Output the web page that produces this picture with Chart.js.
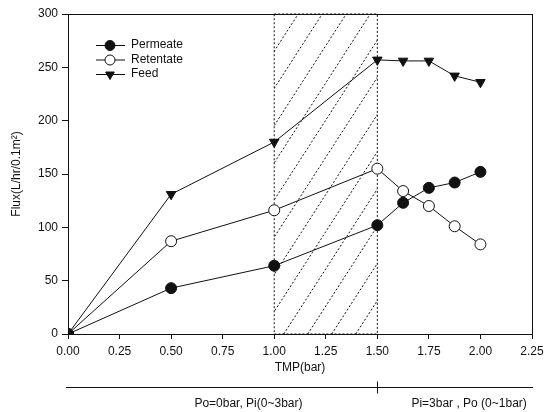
<!DOCTYPE html>
<html>
<head>
<meta charset="utf-8">
<script src="https://cdn.jsdelivr.net/npm/chart.js@4/dist/chart.umd.min.js"></script>
<style>
  body { margin: 0; background: #fff; }
  canvas { display: block; }
</style>
</head>
<body>
<canvas id="fluxChart" width="545" height="412"></canvas>
<script>
// TMP (bar) and flux values
const tmp = [0, 0.5, 1.0, 1.5, 1.625, 1.75, 1.875, 2.0];
const permeate = [0, 43, 64, 102, 123, 137, 142, 152];
const retentate = [0, 87, 116, 155, 134, 120, 101, 84];
const feed = [0, 131, 180, 257, 256, 256, 242, 236];
const xTicks = [0, 0.25, 0.5, 0.75, 1.0, 1.25, 1.5, 1.75, 2.0, 2.25];
const shadedRange = [1.0, 1.5];
const regionLabels = ['Po=0bar, Pi(0~3bar)', 'Pi=3bar , Po (0~1bar)'];
const regionSplit = 1.5;

const FONT = "'Liberation Sans', Arial, Helvetica, sans-serif";
const INK = '#111';

function toPoints(ys) {
    return tmp.map((x, i) => ({ x: x, y: ys[i] }));
}

const series = [
    { label: 'Permeate', data: permeate, pointStyle: 'circle', bg: INK, rotation: 0 },
    { label: 'Retentate', data: retentate, pointStyle: 'circle', bg: '#fff', rotation: 0 },
    { label: 'Feed', data: feed, pointStyle: 'triangle', bg: INK, rotation: 180 }
];

// hatched box between 1.0 and 1.5 bar
const hatchPlugin = {
    id: 'hatch',
    beforeDatasetsDraw(chart) {
        const { ctx, chartArea, scales } = chart;
        const x1 = scales.x.getPixelForValue(shadedRange[0]);
        const x2 = scales.x.getPixelForValue(shadedRange[1]);
        const top = chartArea.top, bottom = chartArea.bottom;
        ctx.save();
        ctx.strokeStyle = INK;
        ctx.lineWidth = 1;
        ctx.setLineDash([2, 2]);
        ctx.beginPath();
        ctx.rect(x1, top, x2 - x1, bottom - top);
        ctx.stroke();
        ctx.clip();
        const slope = 1.55;
        const h = bottom - top;
        const step = 24;
        for (let sx = x1 - h / slope; sx < x2 + step; sx += step) {
            ctx.beginPath();
            ctx.moveTo(sx, bottom);
            ctx.lineTo(sx + h / slope, top);
            ctx.stroke();
        }
        ctx.restore();
    }
};

// frame, legend and the pressure region annotation below the axis
const extrasPlugin = {
    id: 'extras',
    afterDraw(chart) {
        const { ctx, chartArea, scales } = chart;
        ctx.save();
        ctx.strokeStyle = INK;
        ctx.lineWidth = 1;
        ctx.setLineDash([]);
        ctx.strokeRect(chartArea.left + 0.5, chartArea.top + 0.5,
            chartArea.right - chartArea.left, chartArea.bottom - chartArea.top);

        // legend
        const lx = chartArea.left + 28;
        let ly = chartArea.top + 31;
        ctx.font = '12px ' + FONT;
        ctx.textBaseline = 'middle';
        series.forEach(s => {
            ctx.strokeStyle = INK;
            ctx.beginPath();
            ctx.moveTo(lx, ly + 0.5);
            ctx.lineTo(lx + 29, ly + 0.5);
            ctx.stroke();
            ctx.fillStyle = s.bg;
            Chart.helpers.drawPoint(ctx, {
                pointStyle: s.pointStyle, radius: 5, rotation: s.rotation, borderWidth: 1
            }, lx + 14, ly + 0.5);
            ctx.fillStyle = INK;
            ctx.fillText(s.label, lx + 35, ly);
            ly += 14.5;
        });

        // region annotation
        const yLine = 387.5;
        const xs = scales.x.getPixelForValue(regionSplit);
        ctx.beginPath();
        ctx.moveTo(chartArea.left - 2, yLine);
        ctx.lineTo(chartArea.right + 1, yLine);
        ctx.moveTo(Math.round(xs) + 0.5, yLine - 6);
        ctx.lineTo(Math.round(xs) + 0.5, yLine + 6);
        ctx.stroke();
        ctx.font = '12px ' + FONT;
        ctx.textAlign = 'center';
        ctx.textBaseline = 'middle';
        ctx.fillStyle = INK;
        ctx.fillText(regionLabels[0], scales.x.getPixelForValue(0.875), 404);
        ctx.fillText(regionLabels[1], scales.x.getPixelForValue(1.945), 404);
        ctx.restore();
    }
};

const datasets = series.map(s => ({
    label: s.label,
    data: toPoints(s.data),
    borderColor: INK,
    borderWidth: 1,
    backgroundColor: s.bg,
    pointBackgroundColor: s.bg,
    pointBorderColor: INK,
    pointBorderWidth: 1,
    pointStyle: s.pointStyle,
    pointRotation: s.rotation,
    pointRadius: 5.5,
    showLine: true,
    tension: 0
}));

new Chart(document.getElementById('fluxChart'), {
    type: 'scatter',
    data: { datasets: datasets },
    options: {
        responsive: false,
        animation: false,
        layout: { padding: { left: 0, right: 13, top: 14, bottom: 37 } },
        plugins: {
            legend: { display: false },
            tooltip: { enabled: false }
        },
        scales: {
            x: {
                type: 'linear',
                min: 0,
                max: 2.25,
                afterBuildTicks: scale => { scale.ticks = xTicks.map(v => ({ value: v })); },
                afterFit: scale => { scale.height = 41; scale.paddingRight = 0; },
                ticks: {
                    color: INK,
                    font: { family: FONT, size: 12 },
                    padding: 5,
                    maxRotation: 0,
                    callback: v => Number(v).toFixed(2)
                },
                grid: { display: true, drawOnChartArea: false, drawTicks: true, tickLength: 5, color: INK },
                border: { display: true, color: INK, width: 1 },
                title: {
                    display: true,
                    text: 'TMP(bar)',
                    color: INK,
                    font: { family: FONT, size: 12 },
                    padding: { top: 0, bottom: 0 }
                }
            },
            y: {
                min: 0,
                max: 300,
                afterFit: scale => { scale.width = 68; },
                ticks: {
                    stepSize: 50,
                    color: INK,
                    font: { family: FONT, size: 12 },
                    padding: 4
                },
                grid: { display: true, drawOnChartArea: false, drawTicks: true, tickLength: 6, color: INK },
                border: { display: true, color: INK, width: 1 },
                title: {
                    display: true,
                    text: 'Flux(L/hr/0.1m²)',
                    color: INK,
                    font: { family: FONT, size: 12 },
                    padding: { top: 9, bottom: 0 }
                }
            }
        }
    },
    plugins: [hatchPlugin, extrasPlugin]
});
</script>
</body>
</html>
